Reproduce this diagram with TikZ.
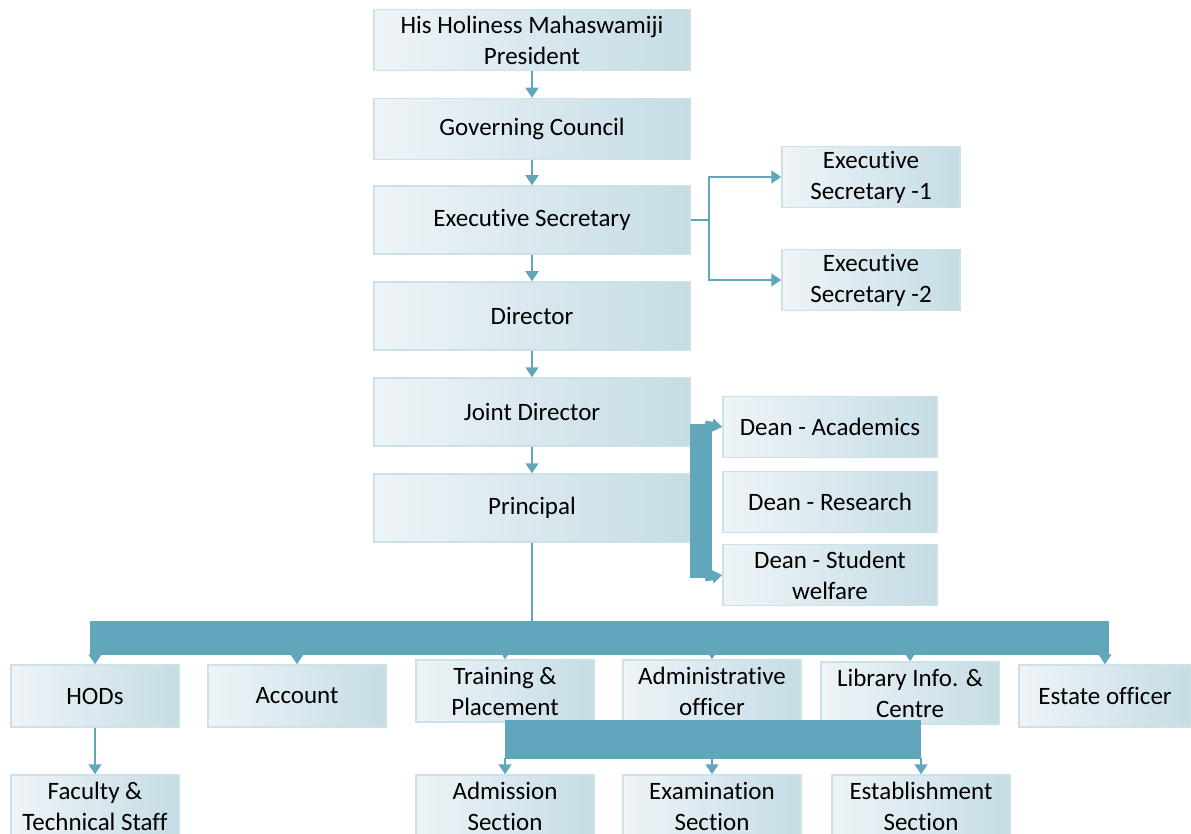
\documentclass[tikz,border=0pt]{standalone}
\usepackage{fontspec}
\setmainfont{Carlito}[RawFeature={-liga;-clig;-dlig;-calt}]
\usetikzlibrary{arrows.meta,positioning}

\definecolor{linkcol}{RGB}{98,166,188}
\definecolor{boxline}{RGB}{205,225,233}
\definecolor{boxleft}{RGB}{238,244,248}
\definecolor{boxright}{RGB}{197,220,229}

\tikzset{
  orgbox/.style={draw=boxline, line width=1.5pt, left color=boxleft, right color=boxright,
    align=center, inner sep=2pt, font=\fontsize{25}{31}\selectfont},
  bigbox/.style={orgbox, minimum width=316pt, minimum height=68pt},
  sidebox/.style={orgbox, minimum width=178pt, minimum height=61pt},
  deanbox/.style={orgbox, minimum width=214pt, minimum height=61pt},
  lowbox/.style={orgbox, minimum width=178pt, minimum height=62pt},
  link/.style={draw=linkcol, line width=1.5pt},
}

\begin{document}
\begin{tikzpicture}[x=1pt, y=-1pt, >={Triangle[width=13pt,length=10pt]}]
\useasboundingbox (0,0) rectangle (1191,834);

\node[bigbox, minimum height=61pt] (pres) at (532,40) {His Holiness Mahaswamiji\\President};
\node[bigbox, minimum height=61pt] (gc) at (532,129) {Governing Council};
\node[bigbox] (es) at (532,220) {Executive Secretary};
\node[bigbox] (dir) at (532,316) {Director};
\node[bigbox] (jd) at (532,412) {Joint Director};
\node[bigbox] (prin) at (532,508) {Principal};

\node[sidebox] (esa) at (871,177) {Executive\\Secretary -1};
\node[sidebox] (esb) at (871,280) {Executive\\Secretary -2};

\node[deanbox] (dacad) at (830,427) {Dean - Academics};
\node[deanbox] (dres) at (830,502) {Dean - Research};
\node[deanbox] (dstud) at (830,575) {Dean - Student\\welfare};

\node[lowbox, minimum width=168pt] (hods) at (95,696) {HODs};
\node[lowbox] (acc) at (297,696) {Account};
\node[lowbox] (train) at (505,691) {Training \&\\Placement};
\node[lowbox] (admin) at (712,691) {Administrative\\officer};
\node[lowbox] (lib) at (910,693) {Library Info. \&\\Centre};
\node[lowbox, minimum width=172pt] (estate) at (1105,696) {Estate officer};

\node[lowbox, minimum width=168pt] (fac) at (95,806) {Faculty \&\\Technical Staff};
\node[lowbox] (adm) at (505,806) {Admission\\Section};
\node[lowbox] (exam) at (712,806) {Examination\\Section};
\node[lowbox] (estb) at (921,806) {Establishment\\Section};

\draw[link,->] (pres) -- (gc);
\draw[link,->] (gc) -- (es);
\draw[link,->] (es) -- (dir);
\draw[link,->] (dir) -- (jd);
\draw[link,->] (jd) -- (prin);

\coordinate (fork) at (709,220);
\draw[link] (es.east) -- (fork);
\draw[link,->] (fork) |- (esa.west);
\draw[link,->] (fork) |- (esb.west);

\coordinate (deantop) at (701,424);
\coordinate (deanbot) at (701,578);
\draw[draw=linkcol, line width=22pt] (deantop) -- (deanbot);
\draw[draw=linkcol, line width=7pt, ->] (deantop -| 705,0) -- (dacad.west);
\draw[draw=linkcol, line width=7pt, ->] (deanbot -| 705,0) -- (dstud.west);

\draw[link] (prin.south) -- (prin.south |- 0,622);
\draw[draw=linkcol, line width=34pt] (90,638) -- (1109,638);
\foreach \b in {hods,acc,train,admin,lib,estate}
  \draw[link,->] (\b.north |- 0,654) -- (\b.north);

\draw[link,->] (hods) -- (fac);

\draw[draw=linkcol, line width=39pt] (505,739.5) -- (921,739.5);
\foreach \b in {adm,exam,estb}
  \draw[link,->] (\b.north |- 0,758) -- (\b.north);
\end{tikzpicture}
\end{document}
